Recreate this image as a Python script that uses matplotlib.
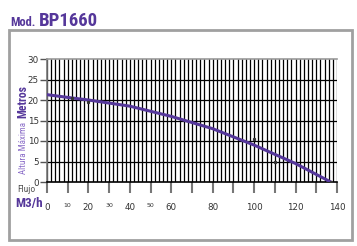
import matplotlib.pyplot as plt
from matplotlib.patches import Rectangle

# curve
flujo = [0, 12, 20, 40, 60, 80, 100, 120, 137]
altura = [21.3, 20.5, 20.0, 18.5, 16.0, 13.0, 9.0, 4.5, 0.0]
# little stray dots
dot_x = [12, 20, 100, 110, 137]
dot_y = [20.5, 19.6, 10.5, 4.8, 0.0]

x_ticks = [0, 10, 20, 30, 40, 50, 60, 80, 100, 120, 140]
y_ticks = [0, 5, 10, 15, 20, 25, 30]

purple = '#55379a'
cond = ['Roboto Condensed', 'DejaVu Sans']

fig = plt.figure(figsize=(3.57, 2.46), dpi=100)
ax = fig.add_axes([47 / 357, 1 - 182 / 246, 290 / 357, 123 / 246])

# vertical grid every 2, horizontal every 5
for gx in range(0, 141, 2):
    ax.axvline(gx, color='black', lw=0.9, zorder=1)
for gy in y_ticks[1:-1]:
    ax.axhline(gy, color='black', lw=0.9, zorder=1)

ax.plot(flujo, altura, color=purple, lw=2.2, zorder=3)
ax.plot(dot_x, dot_y, 's', color='#333333', ms=1.3, zorder=4)

ax.set_xlim(0, 140)
ax.set_ylim(0, 30)

ax.set_xticks(x_ticks)
ax.set_xticklabels([str(v) for v in x_ticks])
for lab, v in zip(ax.get_xticklabels(), x_ticks):
    lab.set_fontsize(4.5 if v in (10, 30, 50) else 6.3)
    lab.set_color('#333333')
ax.tick_params(axis='x', length=8, width=1.5, color='#777777', pad=7)
# extra gray ticks at 70, 90, 110, 130 without labels
ax.set_xticks([70, 90, 110, 130], minor=True)
ax.tick_params(axis='x', which='minor', length=8, width=1.5, color='#777777')

ax.set_yticks(y_ticks)
ax.tick_params(axis='y', length=5, width=1, color='#555555', labelsize=6.3,
               labelcolor='#333333', pad=1)

ax.spines['right'].set_visible(False)
ax.spines['top'].set_color('#999999')
ax.spines['top'].set_linewidth(1.2)
ax.spines['left'].set_color('#777777')
ax.spines['left'].set_linewidth(1.2)
ax.spines['bottom'].set_color('black')
ax.spines['bottom'].set_linewidth(1.2)

# outer gray frame
fig.patches.append(Rectangle((9 / 357, 6 / 246), 343 / 357, 210 / 246,
                             transform=fig.transFigure, fill=False,
                             edgecolor='#a0a0a0', lw=2))

fig.text(10 / 357, 1 - 25.5 / 246, 'Mod.', color=purple, fontsize=9,
         fontweight='bold', family=cond, va='baseline')
fig.text(39 / 357, 1 - 25.5 / 246, 'BP1660', color=purple, fontsize=13.5,
         fontweight='bold', family=cond, va='baseline')

fig.text(22.5 / 357, 1 - 102 / 246, 'Metros', color=purple, fontsize=8.5,
         fontweight='bold', family=cond, rotation=90, ha='center', va='center')
fig.text(24 / 357, 1 - 148 / 246, 'Altura Máxima', color='#8a6cc8', fontsize=6.5,
         family=cond, rotation=90, ha='center', va='center')

fig.text(26 / 357, 1 - 190 / 246, 'Flujo', color='#555555', fontsize=6.8,
         family=cond, ha='center', va='center')
fig.text(29 / 357, 1 - 203 / 246, 'M3/h', color=purple, fontsize=9.5,
         fontweight='bold', family=cond, ha='center', va='center')

fig.savefig('out.png', dpi=100)
